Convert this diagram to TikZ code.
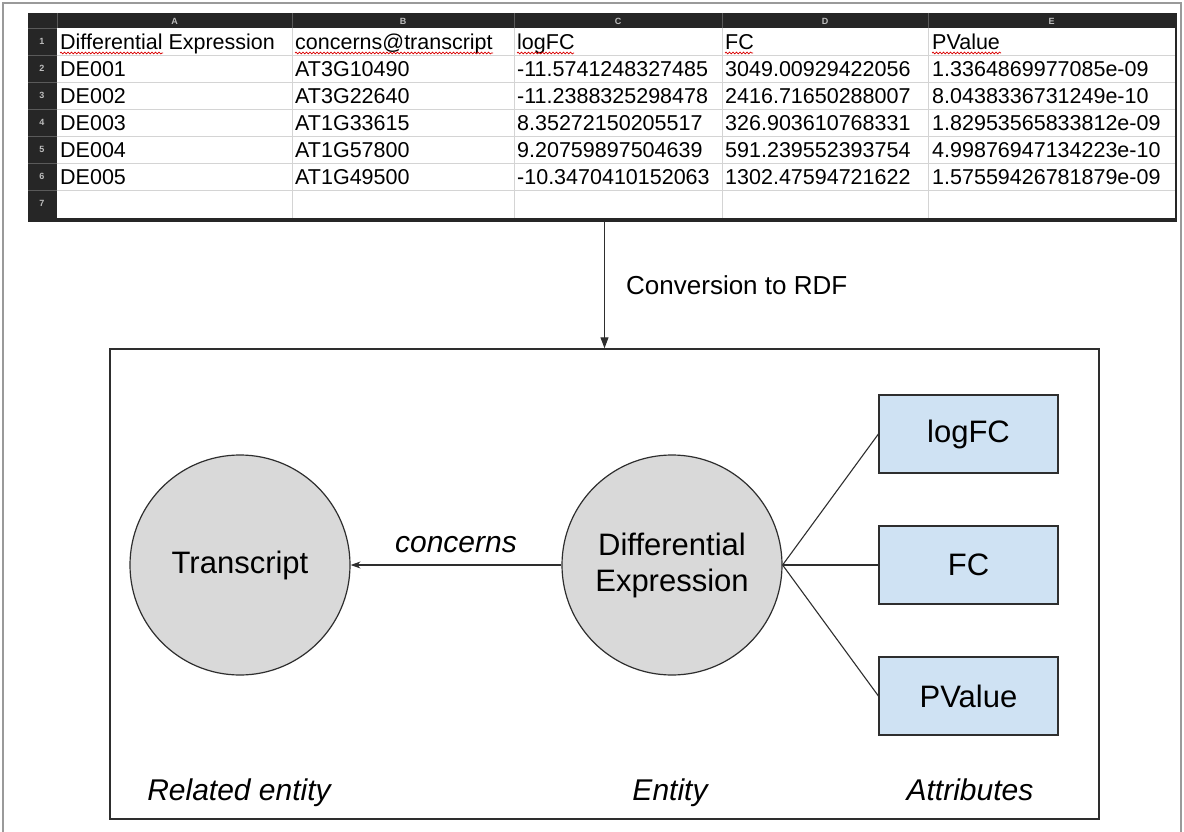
\documentclass[tikz,border=0pt]{standalone}
\usepackage{fontspec}
\setmainfont{Liberation Sans}
\usetikzlibrary{arrows.meta,decorations.pathmorphing}
\definecolor{framegray}{HTML}{9A9A9A}
\definecolor{sheetdark}{HTML}{262626}
\definecolor{gridgray}{HTML}{D4D4D4}
\definecolor{headsep}{HTML}{5A5A5A}
\definecolor{labgray}{HTML}{BDBDBD}
\definecolor{circgray}{HTML}{D9D9D9}
\definecolor{attrblue}{HTML}{CFE2F3}
\definecolor{linedark}{HTML}{2E2E2E}
\begin{document}
\begin{tikzpicture}[x=1pt,y=-1pt,
  celltext/.style={anchor=base west,inner sep=0pt,font=\fontsize{21.5}{26}\selectfont,text=black},
  headlab/.style={inner sep=0pt,font=\fontsize{9}{10}\selectfont\bfseries,text=labgray},
  entcirc/.style={circle,draw=linedark,line width=1.2pt,fill=circgray,minimum size=220pt,inner sep=0pt,
    font=\fontsize{31}{36}\selectfont,align=center},
  attrbox/.style={rectangle,draw=linedark,line width=1.2pt,fill=attrblue,minimum width=179pt,minimum height=78pt,
    inner sep=0pt,font=\fontsize{31}{36}\selectfont},
  biglab/.style={anchor=base,inner sep=0pt,font=\fontsize{30}{36}\selectfont\itshape},
  squig/.style={red!85!black,line width=0.7pt,decorate,decoration={snake,amplitude=0.9pt,segment length=3.5pt}},
  conn/.style={linedark,line width=1.1pt}]
\useasboundingbox (0,0) rectangle (1184,832);
% outer frame
\draw[framegray,line width=1.5pt] (3,832) -- (3,3) -- (1181,3) -- (1181,832);
% spreadsheet
\node[draw=none,fill=sheetdark,minimum width=1149pt,minimum height=209pt,inner sep=0pt] (sheet) at (602.5,117.5) {};
\fill[white] (57,28) rectangle (1175,218);
\foreach \y in {55,82,109,136,163,190} {
  \draw[gridgray,line width=0.8pt] (57,\y) -- (1175,\y);
  \draw[headsep,line width=0.8pt] (28,\y) -- (57,\y);
}
\foreach \x in {292,514,722,928} {
  \draw[gridgray,line width=0.8pt] (\x,28) -- (\x,218);
  \draw[headsep,line width=0.8pt] (\x,13) -- (\x,28);
}
\draw[headsep,line width=0.8pt] (57,13) -- (57,28);
\draw[headsep,line width=0.8pt] (28,28) -- (57,28);
% column letters
\node[headlab] (hA) at (174.5,21) {A};
\node[headlab] (hB) at (403,21) {B};
\node[headlab] (hC) at (618,21) {C};
\node[headlab] (hD) at (825,21) {D};
\node[headlab] (hE) at (1051.5,21) {E};
% row numbers
\foreach \r [count=\i] in {1,...,7} {
  \node[headlab] (rn\i) at (42,{28+27*(\i-1)+13.5}) {\r};
}
% cell text
\node[celltext] (a1) at (60,49.5) {Differential Expression};
\node[celltext] (b1) at (295,49.5) {concerns@transcript};
\node[celltext] (c1) at (517,49.5) {logFC};
\node[celltext] (d1) at (725,49.5) {FC};
\node[celltext] (e1) at (932,49.5) {PValue};
\node[celltext] (a2) at (60,76.5) {DE001};
\node[celltext] (b2) at (295,76.5) {AT3G10490};
\node[celltext] (c2) at (517,76.5) {-11.5741248327485};
\node[celltext] (d2) at (725,76.5) {3049.00929422056};
\node[celltext] (e2) at (932,76.5) {1.3364869977085e-09};
\node[celltext] (a3) at (60,103.5) {DE002};
\node[celltext] (b3) at (295,103.5) {AT3G22640};
\node[celltext] (c3) at (517,103.5) {-11.2388325298478};
\node[celltext] (d3) at (725,103.5) {2416.71650288007};
\node[celltext] (e3) at (932,103.5) {8.0438336731249e-10};
\node[celltext] (a4) at (60,130.5) {DE003};
\node[celltext] (b4) at (295,130.5) {AT1G33615};
\node[celltext] (c4) at (517,130.5) {8.35272150205517};
\node[celltext] (d4) at (725,130.5) {326.903610768331};
\node[celltext] (e4) at (932,130.5) {1.82953565833812e-09};
\node[celltext] (a5) at (60,157.5) {DE004};
\node[celltext] (b5) at (295,157.5) {AT1G57800};
\node[celltext] (c5) at (517,157.5) {9.20759897504639};
\node[celltext] (d5) at (725,157.5) {591.239552393754};
\node[celltext] (e5) at (932,157.5) {4.99876947134223e-10};
\node[celltext] (a6) at (60,184.5) {DE005};
\node[celltext] (b6) at (295,184.5) {AT1G49500};
\node[celltext] (c6) at (517,184.5) {-10.3470410152063};
\node[celltext] (d6) at (725,184.5) {1302.47594721622};
\node[celltext] (e6) at (932,184.5) {1.57559426781879e-09};
% spell-check squiggles
\draw[squig] (60,53) -- (163,53);
\draw[squig] (295,53) -- (493,53);
\draw[squig] (517,53) -- (574,53);
\draw[squig] (725,53) -- (753,53);
\draw[squig] (932,53) -- (1001,53);
% RDF box
\node[draw=linedark,line width=1.5pt,minimum width=989pt,minimum height=470pt,inner sep=0pt] (rdf) at (604.5,584) {};
\draw[conn,-{Triangle[length=11pt,width=8pt]}] (sheet.south -| rdf.north) -- (rdf.north);
\node[anchor=west,inner sep=0pt,font=\fontsize{26}{30}\selectfont] (conv) at (626,285) {Conversion to RDF};
% entities
\node[entcirc] (tr) at (240,565) {Transcript};
\node[entcirc] (de) at (672,565) {Differential\\Expression};
\draw[conn,-{Stealth[length=10pt,width=7pt]}] (de) -- (tr);
\node[biglab] (concerns) at (456,552) {concerns};
% attributes
\node[attrbox] (lfc) at (968.5,434) {logFC};
\node[attrbox] (fc) at (968.5,565) {FC};
\node[attrbox] (pv) at (968.5,696) {PValue};
\draw[conn] (de.east) -- (lfc.west);
\draw[conn] (de.east) -- (fc.west);
\draw[conn] (de.east) -- (pv.west);
% captions
\node[biglab] (relent) at (239,800) {Related entity};
\node[biglab] (ent) at (670,800) {Entity};
\node[biglab] (attrs) at (970,800) {Attributes};
\end{tikzpicture}
\end{document}
